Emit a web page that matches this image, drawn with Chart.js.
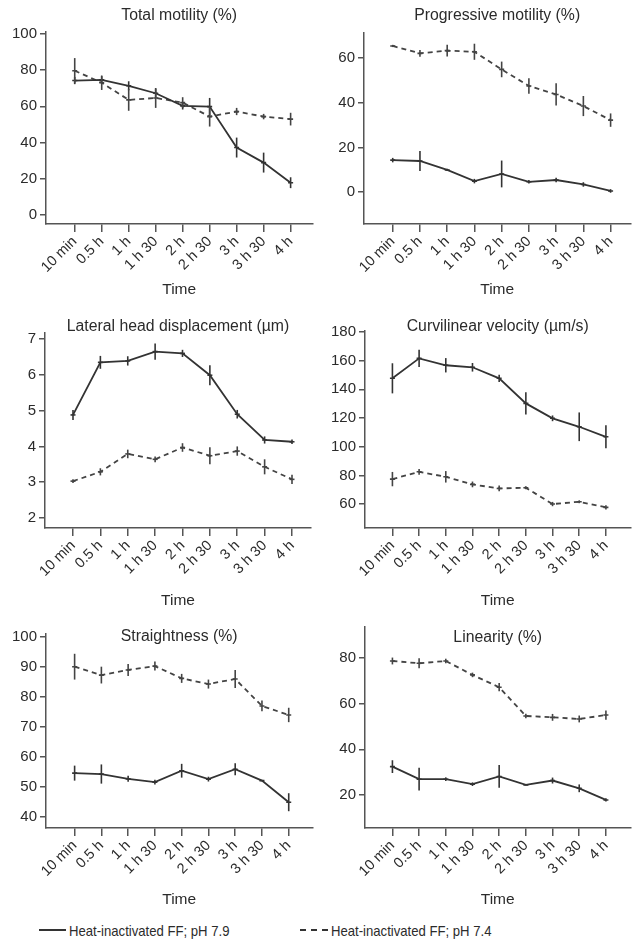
<!DOCTYPE html>
<html>
<head>
<meta charset="utf-8">
<script src="https://cdn.jsdelivr.net/npm/chart.js@4.4.1/dist/chart.umd.min.js"></script>
<style>
  body { margin: 0; background: #fff; width: 636px; height: 943px; position: relative; overflow: hidden;
         font-family: "Liberation Sans", Arial, sans-serif; }
  .panel { position: absolute; width: 318px; height: 312px; }
  .legend { position: absolute; top: 921px; height: 18px; display: flex; align-items: center;
            font-size: 15px; color: #2b2b2b; white-space: nowrap; }
  .legend .txt { display: inline-block; transform: scaleX(0.875); transform-origin: left center; }
  .legend .solid { display: inline-block; width: 27px; height: 2px; background: #333; margin-right: 3px; }
  .legend .dash { display: inline-block; width: 28px; height: 2px; margin-right: 3px;
                  background: repeating-linear-gradient(to right, #333 0 6px, transparent 6px 11px); }
</style>
</head>
<body>
<div class="panel" style="left:0;top:0"><canvas id="tm" width="318" height="312"></canvas></div>
<div class="panel" style="left:318px;top:0"><canvas id="pm" width="318" height="312"></canvas></div>
<div class="panel" style="left:0;top:300px"><canvas id="lh" width="318" height="312"></canvas></div>
<div class="panel" style="left:318px;top:300px"><canvas id="cv" width="318" height="312"></canvas></div>
<div class="panel" style="left:0;top:600px"><canvas id="st" width="318" height="312"></canvas></div>
<div class="panel" style="left:318px;top:600px"><canvas id="ln" width="318" height="312"></canvas></div>
<div class="legend" style="left:39px"><span class="solid"></span><span class="txt">Heat-inactivated FF; pH 7.9</span></div>
<div class="legend" style="left:300px"><span class="dash"></span><span class="txt">Heat-inactivated FF; pH 7.4</span></div>

<script>
var timeLabels = ["10 min", "0.5 h", "1 h", "1 h 30", "2 h", "2 h 30", "3 h", "3 h 30", "4 h"];

// Total motility (%)
var tmPh79 = [74.2, 74.6, 71.3, 67.2, 60.2, 59.8, 37.2, 28.9, 17.8];
var tmPh79Err = [2, 2, 2.5, 2.5, 2, 4.8, 5.5, 5.5, 3];
var tmPh74 = [79.6, 73, 63.5, 64.6, 62, 54.3, 57.1, 54.3, 52.9];
var tmPh74Err = [7, 4, 6, 5.5, 3, 5.5, 2, 1.5, 3.5];
var tmTicks = [0, 20, 40, 60, 80, 100];

// Progressive motility (%)
var pmPh79 = [14.3, 13.9, 9.9, 4.9, 8.1, 4.6, 5.4, 3.4, 0.5];
var pmPh79Err = [1, 4.5, 0.5, 1, 6, 0.8, 1, 1, 0.8];
var pmPh74 = [65.4, 62.1, 63.3, 62.8, 54.9, 47.5, 43.7, 38.5, 32.2];
var pmPh74Err = [0.5, 1.5, 2.6, 3.6, 3.5, 3.5, 5, 4.5, 3];
var pmTicks = [0, 20, 40, 60];

// Lateral head displacement (um)
var lhPh79 = [4.88, 6.35, 6.39, 6.65, 6.6, 5.99, 4.9, 4.18, 4.13];
var lhPh79Err = [0.14, 0.18, 0.13, 0.23, 0.1, 0.28, 0.12, 0.1, 0.06];
var lhPh74 = [3.03, 3.29, 3.79, 3.64, 3.97, 3.74, 3.87, 3.43, 3.08];
var lhPh74Err = [0.05, 0.1, 0.12, 0.08, 0.12, 0.24, 0.13, 0.21, 0.13];
var lhTicks = [2, 3, 4, 5, 6, 7];

// Curvilinear velocity (um/s)
var cvPh79 = [147.7, 161.6, 156.8, 155.4, 147.7, 130.2, 119.8, 113.9, 106.9];
var cvPh79Err = [10.5, 6, 5, 3, 2.5, 7.8, 2, 10, 8];
var cvPh74 = [77.4, 82.5, 79, 73.7, 70.9, 71.4, 60, 61.6, 57.7];
var cvPh74Err = [5, 2, 4, 2, 2, 1, 1.5, 1, 1.5];
var cvTicks = [60, 80, 100, 120, 140, 160, 180];

// Straightness (%)
var stPh79 = [54.6, 54.3, 52.7, 51.6, 55.4, 52.6, 55.9, 52.1, 44.9];
var stPh79Err = [2.5, 3.2, 1, 0.8, 2.3, 0.8, 2, 0, 3];
var stPh74 = [90.1, 87.3, 89, 90.3, 86.2, 84.3, 86, 77, 74];
var stPh74Err = [4.3, 2.8, 2, 1.5, 1.5, 1.5, 3, 1.8, 2.4];
var stTicks = [40, 50, 60, 70, 80, 90, 100];

// Linearity (%)
var lnPh79 = [32.4, 26.9, 26.9, 24.7, 28.1, 24.4, 26.3, 22.9, 17.8];
var lnPh79Err = [2.8, 5, 0.8, 0.8, 5, 0, 1.3, 1.7, 0.7];
var lnPh74 = [78.7, 77.7, 78.7, 72.6, 67.2, 54.6, 54, 53.3, 55];
var lnPh74Err = [1.5, 2.2, 1, 1, 1.8, 1, 1.5, 1.5, 2];
var lnTicks = [20, 40, 60, 80];

var textColor = "#2b2b2b";
var axisColor = "#555";
var font = "Liberation Sans, Arial, sans-serif";

var panelTitle = {
    id: "panelTitle",
    afterDraw: function (chart, args, opts) {
        var ctx = chart.ctx, a = chart.chartArea;
        ctx.save();
        ctx.font = "15.8px " + font;
        ctx.fillStyle = textColor;
        ctx.textAlign = "center";
        ctx.textBaseline = "middle";
        ctx.fillText(opts.text, (a.left + a.right) / 2, opts.y);
        ctx.restore();
    }
};

var errorBars = {
    id: "errorBars",
    afterDatasetsDraw: function (chart) {
        var ctx = chart.ctx, xs = chart.scales.x, ys = chart.scales.y;
        chart.data.datasets.forEach(function (ds) {
            ctx.save();
            ctx.strokeStyle = ds.borderColor;
            ctx.lineWidth = 1.6;
            ds.data.forEach(function (p, i) {
                var e = ds.errors[i];
                if (!e) return;
                var px = xs.getPixelForValue(p.x);
                ctx.beginPath();
                ctx.moveTo(px, ys.getPixelForValue(p.y - e));
                ctx.lineTo(px, ys.getPixelForValue(p.y + e));
                ctx.stroke();
            });
            ctx.restore();
        });
    }
};

function series(values) {
    return values.map(function (v, i) { return { x: i, y: v }; });
}

function makePanel(id, title, solid, solidErr, dashed, dashedErr, yTicks, yMin, yMax, g) {
    var H = 312;
    var spacing = (g.last - g.first) / 8;
    var xMin = -(g.first - g.left) / spacing;
    var xMax = 8 + (g.right - g.last) / spacing;
    var lh = 15.5 * 1.2;

    new Chart(document.getElementById(id), {
        type: "line",
        data: {
            datasets: [
                {
                    data: series(solid),
                    errors: solidErr,
                    borderColor: "#333",
                    borderWidth: 1.8,
                    pointStyle: "line",
                    pointRadius: 2.5,
                    pointBorderWidth: 1.6,
                    pointBorderColor: "#333",
                    tension: 0,
                },
                {
                    data: series(dashed),
                    errors: dashedErr,
                    borderColor: "#444",
                    borderWidth: 1.8,
                    borderDash: [5, 4],
                    pointStyle: "line",
                    pointRadius: 2.5,
                    pointBorderWidth: 1.6,
                    pointBorderColor: "#444",
                    tension: 0,
                },
            ],
        },
        options: {
            responsive: false,
            animation: false,
            layout: {
                padding: { left: 0, right: 318 - g.right, top: g.top, bottom: H - g.timeY - lh / 2 },
            },
            plugins: {
                legend: { display: false },
                tooltip: { enabled: false },
                panelTitle: { text: title, y: g.titleY },
            },
            scales: {
                x: {
                    type: "linear",
                    bounds: "data",
                    min: xMin,
                    max: xMax,
                    afterBuildTicks: function (s) {
                        s.ticks = timeLabels.map(function (t, i) { return { value: i }; });
                    },
                    afterFit: function (s) {
                        s.height = g.timeY - g.bottom + lh / 2;
                    },
                    ticks: {
                        callback: function (v) { return timeLabels[v]; },
                        minRotation: 45,
                        maxRotation: 45,
                        autoSkip: false,
                        padding: 1,
                        color: textColor,
                        font: { family: font, size: 14.5 },
                    },
                    grid: { drawOnChartArea: false, tickLength: 8, color: axisColor, lineWidth: 1.5 },
                    border: { color: axisColor, width: 1.5 },
                    title: {
                        display: true,
                        text: "Time",
                        color: textColor,
                        padding: 0,
                        font: { family: font, size: 15.5 },
                    },
                },
                y: {
                    bounds: "data",
                    min: yMin,
                    max: yMax,
                    afterBuildTicks: function (s) {
                        s.ticks = yTicks.map(function (v) { return { value: v }; });
                    },
                    afterFit: function (s) {
                        s.width = g.left;
                    },
                    ticks: {
                        padding: 3,
                        color: textColor,
                        font: { family: font, size: 15 },
                    },
                    grid: { drawOnChartArea: false, tickLength: 6, color: axisColor, lineWidth: 1.5 },
                    border: { color: axisColor, width: 1.5 },
                },
            },
        },
        plugins: [panelTitle, errorBars],
    });
}

makePanel("tm", "Total motility (%)", tmPh79, tmPh79Err, tmPh74, tmPh74Err, tmTicks, -5, 101,
    { left: 46, right: 315, top: 32, bottom: 224, first: 75, last: 293, titleY: 16, timeY: 290 });
makePanel("pm", "Progressive motility (%)", pmPh79, pmPh79Err, pmPh74, pmPh74Err, pmTicks, -14.3, 71.2,
    { left: 46, right: 315, top: 33, bottom: 224, first: 75, last: 295, titleY: 16, timeY: 290 });
makePanel("lh", "Lateral head displacement (\u00b5m)", lhPh79, lhPh79Err, lhPh74, lhPh74Err, lhTicks, 1.72, 7.17,
    { left: 45, right: 311, top: 33, bottom: 228, first: 73, last: 292, titleY: 27, timeY: 301 });
makePanel("cv", "Curvilinear velocity (\u00b5m/s)", cvPh79, cvPh79Err, cvPh74, cvPh74Err, cvTicks, 43.3, 180.7,
    { left: 47, right: 318, top: 31, bottom: 228, first: 75, last: 293, titleY: 27, timeY: 301 });
makePanel("st", "Straightness (%)", stPh79, stPh79Err, stPh74, stPh74Err, stTicks, 36.3, 101,
    { left: 46, right: 316, top: 34, bottom: 228, first: 75, last: 292, titleY: 37, timeY: 300 });
makePanel("ln", "Linearity (%)", lnPh79, lnPh79Err, lnPh74, lnPh74Err, lnTicks, 5.5, 93.6,
    { left: 47, right: 318, top: 27, bottom: 228, first: 75, last: 293, titleY: 38, timeY: 300 });
</script>
</body>
</html>
